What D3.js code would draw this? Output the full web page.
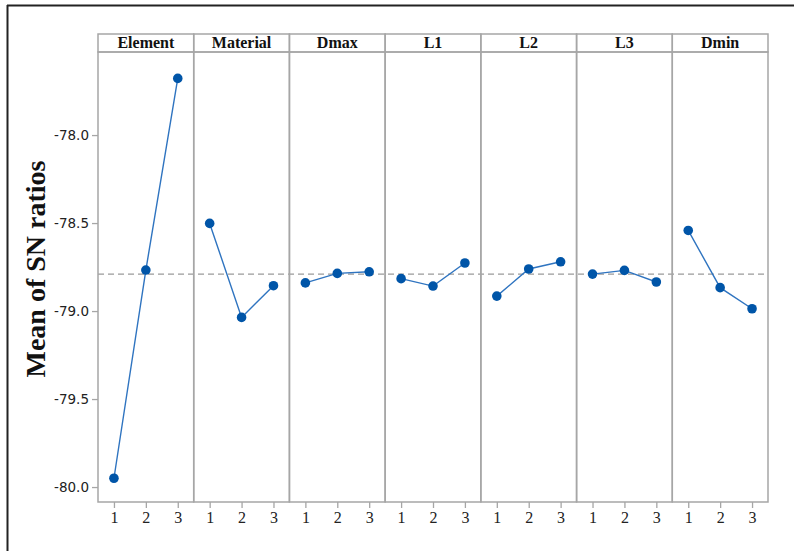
<!DOCTYPE html>
<html>
<head>
<meta charset="utf-8">
<script src="https://cdn.jsdelivr.net/npm/d3@7"></script>
<style>
  body { margin: 0; background: #fff; }
  svg { display: block; }
</style>
</head>
<body>
<div id="chart-area"></div>
<script>
// Factors and levels
const factors = ["Element", "Material", "Dmax", "L1", "L2", "L3", "Dmin"];
const levels = [1, 2, 3];

// Mean SN ratio per factor, levels 1..3
const elementValues = [-79.95, -78.767, -77.678];
const materialValues = [-78.502, -79.036, -78.856];
const dmaxValues = [-78.84, -78.786, -78.777];
const l1Values = [-78.816, -78.858, -78.727];
const l2Values = [-78.915, -78.761, -78.72];
const l3Values = [-78.79, -78.769, -78.835];
const dminValues = [-78.542, -78.867, -78.987];

const overallMean = -78.79;
const yTicks = [-80.0, -79.5, -79.0, -78.5, -78.0];

const seriesValues = [elementValues, materialValues, dmaxValues, l1Values, l2Values, l3Values, dminValues];

const COLORS = {
  frame: "#a6a6a6",
  line: "#2f74c0",
  point: "#0055a8",
  dash: "#9a9a9a",
  text: "#222",
};

const width = 794;
const height = 551;
const plot = { left: 98, right: 768, stripTop: 34, top: 52, bottom: 502 };

const svg = d3.select("#chart-area").append("svg")
  .attr("width", width)
  .attr("height", height);

// outer frame (top and left only visible)
svg.append("line")
  .attr("x1", 7).attr("x2", width).attr("y1", 5.5).attr("y2", 5.5)
  .attr("stroke", "#222").attr("stroke-width", 2);
svg.append("line")
  .attr("x1", 7.5).attr("x2", 7.5).attr("y1", 5).attr("y2", height)
  .attr("stroke", "#222").attr("stroke-width", 2);

// Scales
const panelScale = d3.scaleBand()
  .domain(factors)
  .range([plot.left, plot.right]);

const yScale = d3.scaleLinear()
  .domain([-80.085, -77.528])
  .range([plot.bottom, plot.top]);

const xScale = d3.scaleLinear()
  .domain([0.5, 3.5])
  .range([0, panelScale.bandwidth()]);

// Y axis
const yAxis = svg.append("g")
  .attr("transform", `translate(${plot.left}, 0)`)
  .call(d3.axisLeft(yScale).tickValues(yTicks).tickFormat(d3.format(".1f")).tickSize(6).tickPadding(3));
yAxis.select(".domain").remove();
yAxis.selectAll(".tick line").attr("stroke", COLORS.frame).attr("stroke-width", 1.3);
yAxis.selectAll(".tick text")
  .attr("fill", COLORS.text)
  .style("font-family", "'DejaVu Sans', sans-serif")
  .style("font-size", "13.5px")
  .text((d) => d3.format(".1f")(d).replace("−", "-"));

// Y label
svg.append("text")
  .attr("transform", `translate(45, 269) rotate(-90)`)
  .attr("text-anchor", "middle")
  .style("font-family", "'Liberation Serif', 'Times New Roman', serif")
  .style("font-weight", "bold")
  .style("font-size", "28px")
  .attr("fill", "#111")
  .text("Mean of SN ratios");

// Mean line
svg.append("line")
  .attr("x1", plot.left).attr("x2", plot.right)
  .attr("y1", yScale(overallMean)).attr("y2", yScale(overallMean))
  .attr("stroke", COLORS.dash)
  .attr("stroke-width", 1.3)
  .attr("stroke-dasharray", "6,4");

// Panels
factors.forEach((factor, i) => {
  const x0 = panelScale(factor);
  const g = svg.append("g").attr("transform", `translate(${x0}, 0)`);
  const data = levels.map((lv, j) => ({ level: lv, value: seriesValues[i][j] }));

  // strip
  g.append("rect")
    .attr("x", 0).attr("y", plot.stripTop)
    .attr("width", panelScale.bandwidth())
    .attr("height", plot.top - plot.stripTop)
    .attr("fill", "none")
    .attr("stroke", COLORS.frame)
    .attr("stroke-width", 1.5);
  g.append("text")
    .attr("x", panelScale.bandwidth() / 2)
    .attr("y", plot.top - 4)
    .attr("text-anchor", "middle")
    .style("font-family", "'Liberation Serif', 'Times New Roman', serif")
    .style("font-weight", "bold")
    .style("font-size", "16px")
    .attr("fill", "#111")
    .text(factor);

  // panel box
  g.append("rect")
    .attr("x", 0).attr("y", plot.top)
    .attr("width", panelScale.bandwidth())
    .attr("height", plot.bottom - plot.top)
    .attr("fill", "none")
    .attr("stroke", COLORS.frame)
    .attr("stroke-width", 1.5);

  // x axis
  const xAxis = g.append("g")
    .attr("transform", `translate(0, ${plot.bottom})`)
    .call(d3.axisBottom(xScale).tickValues(levels).tickSize(6).tickPadding(4).tickFormat(d3.format("d")));
  xAxis.select(".domain").remove();
  xAxis.selectAll(".tick line").attr("stroke", COLORS.frame).attr("stroke-width", 1.3);
  xAxis.selectAll(".tick text")
    .attr("fill", COLORS.text)
    .style("font-family", "'Liberation Serif', 'Times New Roman', serif")
    .style("font-size", "16px");

  // line and points
  g.append("path")
    .datum(data)
    .attr("fill", "none")
    .attr("stroke", COLORS.line)
    .attr("stroke-width", 1.4)
    .attr("d", d3.line().x((d) => xScale(d.level)).y((d) => yScale(d.value)));

  g.selectAll("circle")
    .data(data)
    .enter()
    .append("circle")
    .attr("cx", (d) => xScale(d.level))
    .attr("cy", (d) => yScale(d.value))
    .attr("r", 4.8)
    .attr("fill", COLORS.point);
});
</script>
</body>
</html>
